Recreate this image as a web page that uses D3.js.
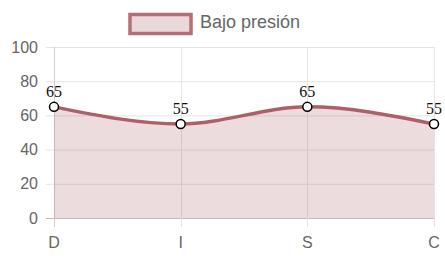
<!DOCTYPE html>
<html>
<head>
<meta charset="utf-8">
<script src="https://cdn.jsdelivr.net/npm/d3@7"></script>
<style>
  body { margin: 0; background: #fff; }
  text { font-family: "Liberation Sans", Arial, sans-serif; }
</style>
</head>
<body>
<script>
// data
const categories = ["D", "I", "S", "C"];
const values = [65, 55, 65, 55];
const yTicks = [0, 20, 40, 60, 80, 100];
const seriesName = "Bajo presión";

var width = 445;
var height = 261;
const margin = {left: 54, top: 47, right: 11, bottom: 43};

const lineColor = "#ae6069";
const fillColor = "rgba(174,96,105,0.22)";

var svg = d3.select("body").append("svg")
      .attr("width", width)
      .attr("height", height);

var x = d3.scalePoint()
    .domain(categories)
    .range([margin.left, width - margin.right]);

var y = d3.scaleLinear()
    .domain([0, 100])
    .range([height - margin.bottom, margin.top]);

// grid
svg.append("g").selectAll("line")
    .data(yTicks)
    .join("line")
      .attr("x1", margin.left - 8)
      .attr("x2", width - margin.right)
      .attr("y1", d => y(d) + 0.5)
      .attr("y2", d => y(d) + 0.5)
      .attr("stroke", d => d === 0 ? "#bdbdbd" : "#e4e4e4")
      .attr("stroke-width", 1);

svg.append("g").selectAll("line")
    .data(categories)
    .join("line")
      .attr("x1", d => Math.round(x(d)) + 0.5)
      .attr("x2", d => Math.round(x(d)) + 0.5)
      .attr("y1", margin.top)
      .attr("y2", height - margin.bottom + 9)
      .attr("stroke", (d, i) => i === 0 ? "#cfcfcf" : "#e4e4e4");

// tick labels
svg.append("g").selectAll("text")
    .data(yTicks)
    .join("text")
      .attr("x", margin.left - 16)
      .attr("y", d => y(d))
      .attr("dy", "0.35em")
      .attr("text-anchor", "end")
      .attr("font-size", 16)
      .attr("fill", "#666")
      .text(d => d);

svg.append("g").selectAll("text")
    .data(categories)
    .join("text")
      .attr("x", d => x(d))
      .attr("y", height - margin.bottom + 24)
      .attr("dy", "0.35em")
      .attr("text-anchor", "middle")
      .attr("font-size", 16)
      .attr("fill", "#666")
      .text(d => d);

// area + line
const pts = categories.map((c, i) => [x(c), y(values[i])]);

svg.append("path")
    .datum(pts)
    .attr("fill", fillColor)
    .attr("d", d3.area()
        .x(d => d[0])
        .y0(y(0))
        .y1(d => d[1])
        .curve(d3.curveMonotoneX));

svg.append("path")
    .datum(pts)
    .attr("fill", "none")
    .attr("stroke", lineColor)
    .attr("stroke-width", 3.5)
    .attr("d", d3.line()
        .x(d => d[0])
        .y(d => d[1])
        .curve(d3.curveMonotoneX));

// points
svg.append("g").selectAll("circle")
    .data(pts)
    .join("circle")
      .attr("cx", d => d[0])
      .attr("cy", d => d[1])
      .attr("r", 4.5)
      .attr("fill", "#fff")
      .attr("stroke", "#000")
      .attr("stroke-width", 1.5);

// data labels
svg.append("g").selectAll("text")
    .data(pts)
    .join("text")
      .attr("x", d => d[0])
      .attr("y", (d, i) => d[1] - 10)
      .attr("text-anchor", "middle")
      .style("font-family", "'Liberation Serif', 'Times New Roman', serif")
      .attr("font-size", 16)
      .attr("fill", "#111")
      .text((d, i) => values[i]);

// legend
const legend = svg.append("g");
legend.append("rect")
    .attr("x", 130)
    .attr("y", 14.5)
    .attr("width", 61)
    .attr("height", 19)
    .attr("fill", "#ead9db")
    .attr("stroke", "#b66e77")
    .attr("stroke-width", 3.5);
legend.append("text")
    .attr("x", 200)
    .attr("y", 22)
    .attr("dy", "0.35em")
    .attr("font-size", 18)
    .attr("fill", "#666")
    .text(seriesName);
</script>
</body>
</html>
